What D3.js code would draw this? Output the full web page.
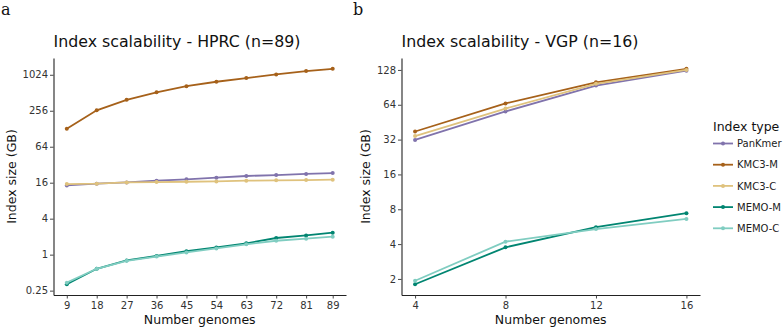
<!DOCTYPE html>
<html>
<head>
<meta charset="utf-8">
<script src="https://cdn.jsdelivr.net/npm/d3@7"></script>
<style>
  body { margin: 0; background: #fff; }
  text { font-family: "DejaVu Sans", sans-serif; }
</style>
</head>
<body>
<svg id="chart" width="784" height="329"></svg>
<script>
// ---- data ----
const seriesNames = ["PanKmer", "KMC3-M", "KMC3-C", "MEMO-M", "MEMO-C"];
const seriesColors = ["#8073ac", "#a6611a", "#dfc27d", "#018571", "#80cdc1"];

// HPRC panel
const hprcGenomes = [9, 18, 27, 36, 45, 54, 63, 72, 81, 89];
const hprcPanKmer = [14.4, 15.4, 16.2, 17.3, 18.2, 19.4, 20.7, 21.5, 22.4, 23.2];
const hprcKMC3M   = [128, 260, 390, 520, 660, 782, 900, 1036, 1180, 1290];
const hprcKMC3C   = [15.2, 15.4, 16.2, 16.4, 16.6, 16.8, 17.3, 17.5, 17.7, 18.0];
const hprcMEMOM   = [0.32, 0.58, 0.80, 0.95, 1.14, 1.32, 1.55, 1.90, 2.10, 2.33];
const hprcMEMOC   = [0.34, 0.58, 0.79, 0.93, 1.09, 1.27, 1.49, 1.71, 1.85, 2.00];
const hprcYTicks  = [0.25, 1, 4, 16, 64, 256, 1024];

// VGP panel
const vgpGenomes = [4, 8, 12, 16];
const vgpPanKmer = [31.8, 56, 93.7, 126];
const vgpKMC3M   = [37.6, 65.8, 100, 131];
const vgpKMC3C   = [34.3, 59.4, 97, 128];
const vgpMEMOM   = [1.8, 3.75, 5.6, 7.4];
const vgpMEMOC   = [1.93, 4.2, 5.4, 6.6];
const vgpYTicks  = [2, 4, 8, 16, 32, 64, 128];

const svg = d3.select("#chart");

function pad(lo, hi, f) { const r = hi - lo; return [lo - r * f, hi + r * f]; }

function drawPanel(opt) {
  const g = svg.append("g");
  const allY = opt.series.flat();
  const ld = pad(Math.log2(d3.min(allY)), Math.log2(d3.max(allY)), 0.05);
  const xd = pad(d3.min(opt.xs), d3.max(opt.xs), 0.05);

  const x = d3.scaleLinear().domain(xd).range([opt.left, opt.right]);
  const y = d3.scaleLog().base(2).domain([2 ** ld[0], 2 ** ld[1]]).range([opt.bottom, opt.top]);

  // axes
  const xAxis = g.append("g")
    .attr("transform", `translate(0,${opt.bottom})`)
    .call(d3.axisBottom(x).tickValues(opt.xs).tickFormat(d3.format("d")).tickSizeInner(3.5).tickSizeOuter(0));
  const yAxis = g.append("g")
    .attr("transform", `translate(${opt.left},0)`)
    .call(d3.axisLeft(y).tickValues(opt.yTicks).tickFormat(d => String(d)).tickSizeInner(3.5).tickSizeOuter(0));
  [xAxis, yAxis].forEach(a => {
    a.select(".domain").attr("stroke", "#222").attr("stroke-width", 1.1);
    a.selectAll(".tick line").attr("stroke", "#333").attr("stroke-width", 0.9);
    a.selectAll("text").attr("fill", "#333").style("font-size", "10px")
      .style("font-family", "DejaVu Sans, sans-serif");
  });
  yAxis.selectAll("text").attr("x", -5.5);

  // lines
  const line = d3.line().x((d, i) => x(opt.xs[i])).y(d => y(d));
  opt.series.forEach((vals, k) => {
    g.append("path")
      .datum(vals)
      .attr("d", line)
      .attr("fill", "none")
      .attr("stroke", seriesColors[k])
      .attr("stroke-width", 1.8);
    g.selectAll(null)
      .data(vals)
      .join("circle")
        .attr("cx", (d, i) => x(opt.xs[i]))
        .attr("cy", d => y(d))
        .attr("r", 2)
        .attr("fill", seriesColors[k]);
  });

  // titles + labels
  g.append("text")
    .attr("x", opt.left).attr("y", 47)
    .style("font-size", "15.8px").attr("fill", "#111")
    .text(opt.title);
  g.append("text")
    .attr("x", (opt.left + opt.right) / 2).attr("y", 324)
    .attr("text-anchor", "middle")
    .style("font-size", "12.5px").attr("fill", "#111")
    .text("Number genomes");
  g.append("text")
    .attr("transform", `translate(${opt.ylabX},${(opt.top + opt.bottom) / 2}) rotate(-90)`)
    .attr("text-anchor", "middle")
    .style("font-size", "12.5px").attr("fill", "#111")
    .text("Index size (GB)");
  g.append("text")
    .attr("x", opt.letterX).attr("y", 15)
    .style("font-family", "DejaVu Serif, serif")
    .style("font-size", "16px").attr("fill", "#111")
    .text(opt.letter);
}

drawPanel({
  xs: hprcGenomes,
  series: [hprcPanKmer, hprcKMC3M, hprcKMC3C, hprcMEMOM, hprcMEMOC],
  yTicks: hprcYTicks,
  left: 53.5, right: 346, top: 58, bottom: 295,
  title: "Index scalability - HPRC (n=89)",
  ylabX: 16, letter: "a", letterX: 1
});

drawPanel({
  xs: vgpGenomes,
  series: [vgpPanKmer, vgpKMC3M, vgpKMC3C, vgpMEMOM, vgpMEMOC],
  yTicks: vgpYTicks,
  left: 401.5, right: 700, top: 58, bottom: 295,
  title: "Index scalability - VGP (n=16)",
  ylabX: 369.5, letter: "b", letterX: 353
});

// legend
const leg = svg.append("g");
leg.append("text")
  .attr("x", 713).attr("y", 131)
  .style("font-size", "12.5px").attr("fill", "#111")
  .text("Index type");
seriesNames.forEach((name, i) => {
  const yy = 143.5 + i * 21.2;
  leg.append("line")
    .attr("x1", 713).attr("x2", 733).attr("y1", yy).attr("y2", yy)
    .attr("stroke", seriesColors[i]).attr("stroke-width", 1.8);
  leg.append("circle").attr("cx", 723).attr("cy", yy).attr("r", 2).attr("fill", seriesColors[i]);
  leg.append("text")
    .attr("x", 737).attr("y", yy + 3.6)
    .style("font-size", "10px").attr("fill", "#222")
    .text(name);
});
</script>
</body>
</html>
